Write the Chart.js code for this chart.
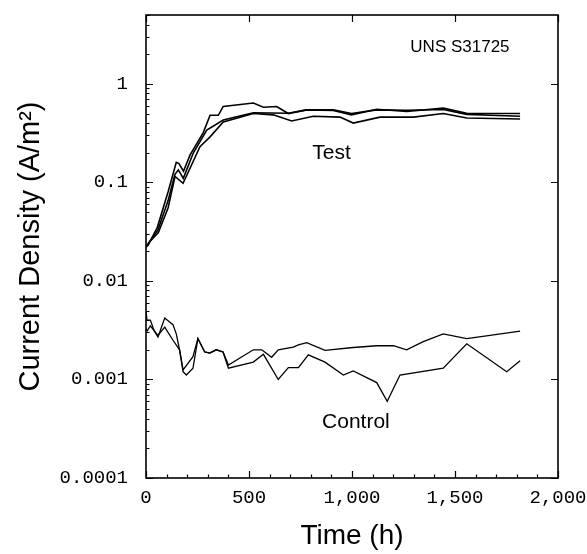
<!DOCTYPE html>
<html>
<head>
<meta charset="utf-8">
<script src="https://cdn.jsdelivr.net/npm/chart.js@4.4.0/dist/chart.umd.min.js"></script>
<style>
  html, body { margin: 0; padding: 0; background: #fff; }
  #wrap { width: 587px; height: 554px; }
</style>
</head>
<body>
<div id="wrap"><canvas id="chart"></canvas></div>
<script>
// test runs (h, A/m2)
const testAHours = [0, 10, 55, 107, 147, 160, 182, 214, 278, 311, 351, 375, 521, 570, 634, 691, 780, 909, 998, 1120, 1265, 1443, 1557, 1816];
const testACurrent = [0.022, 0.023, 0.035, 0.08, 0.16, 0.155, 0.13, 0.19, 0.32, 0.48, 0.48, 0.59, 0.64, 0.58, 0.59, 0.50, 0.545, 0.537, 0.485, 0.553, 0.524, 0.567, 0.504, 0.50];

const testBHours = [5, 58, 107, 140, 157, 181, 230, 295, 375, 521, 691, 780, 909, 998, 1120, 1265, 1443, 1557, 1816];
const testBCurrent = [0.023, 0.033, 0.065, 0.12, 0.134, 0.11, 0.2, 0.34, 0.43, 0.51, 0.504, 0.545, 0.545, 0.50, 0.545, 0.54, 0.55, 0.49, 0.47];

const testCHours = [10, 60, 107, 141, 180, 262, 311, 375, 521, 618, 707, 812, 942, 1006, 1136, 1298, 1443, 1557, 1816];
const testCCurrent = [0.024, 0.031, 0.055, 0.115, 0.098, 0.23, 0.29, 0.41, 0.50, 0.485, 0.42, 0.47, 0.46, 0.40, 0.46, 0.46, 0.50, 0.45, 0.44];

// control runs
const controlAHours = [0, 5, 21, 40, 58, 91, 131, 147, 163, 180, 228, 252, 285, 309, 341, 374, 400, 521, 562, 610, 642, 715, 740, 780, 869, 1006, 1120, 1201, 1265, 1346, 1443, 1557, 1670, 1816];
const controlACurrent = [0.0049, 0.0040, 0.0040, 0.0031, 0.0027, 0.0042, 0.0036, 0.0029, 0.0020, 0.00125, 0.0017, 0.0026, 0.0019, 0.00185, 0.0020, 0.0019, 0.0014, 0.0020, 0.0020, 0.00168, 0.0020, 0.00213, 0.00224, 0.00236, 0.00197, 0.00211, 0.0022, 0.0022, 0.0020, 0.00242, 0.0029, 0.0026, 0.0028, 0.0031];

const controlBHours = [0, 5, 21, 58, 91, 131, 163, 180, 196, 228, 252, 285, 309, 341, 374, 400, 521, 570, 642, 691, 740, 788, 869, 958, 1006, 1120, 1171, 1233, 1443, 1557, 1751, 1816];
const controlBCurrent = [0.0033, 0.0031, 0.0035, 0.0028, 0.0034, 0.0025, 0.0020, 0.0012, 0.00111, 0.0013, 0.0026, 0.0019, 0.00185, 0.0020, 0.0019, 0.0013, 0.0015, 0.0018, 0.0010, 0.00132, 0.00132, 0.00178, 0.0015, 0.00111, 0.00122, 0.00093, 0.0006, 0.00111, 0.0013, 0.0023, 0.0012, 0.00155];

const xTickValues = [0, 500, 1000, 1500, 2000];
const xTickLabels = ['0', '500', '1,000', '1,500', '2,000'];
const yTickValues = [0.0001, 0.001, 0.01, 0.1, 1];
const yTickLabels = ['0.0001', '0.001', '0.01', '0.1', '1'];

function pairs(hours, current) {
  return hours.map((h, i) => ({ x: h, y: current[i] }));
}

// labels written inside the plot, placed in data units
const notes = [
  { text: 'UNS S31725', x: 1524, y: 2.35, size: 17 },
  { text: 'Test', x: 901, y: 0.2, size: 21 },
  { text: 'Control', x: 1019, y: 0.00037, size: 21 }
];

// box, inward tick marks and the text notes
const frame = {
  id: 'frame',
  afterDatasetsDraw(chart) {
    const { ctx, chartArea: a, scales: { x, y } } = chart;
    ctx.save();
    ctx.strokeStyle = '#000';
    ctx.lineWidth = 1.6;
    ctx.strokeRect(a.left, a.top, a.right - a.left, a.bottom - a.top);

    ctx.lineWidth = 1.2;
    ctx.beginPath();
    for (let t = x.min; t <= x.max; t += 100) {
      const px = Math.round(x.getPixelForValue(t)) + 0.5;
      const major = t % 500 === 0;
      const len = major ? 7 : 3.5;
      ctx.moveTo(px, a.bottom);
      ctx.lineTo(px, a.bottom - len);
      if (major) {
        ctx.moveTo(px, a.top);
        ctx.lineTo(px, a.top + len);
      }
    }
    for (let e = -4; e <= 0; e++) {
      for (let m = 1; m <= 9; m++) {
        const v = m * Math.pow(10, e);
        if (v > y.max) break;
        const py = Math.round(y.getPixelForValue(v)) + 0.5;
        const len = m === 1 ? 7 : 3.5;
        ctx.moveTo(a.left, py);
        ctx.lineTo(a.left + len, py);
        if (m === 1) {
          ctx.moveTo(a.right, py);
          ctx.lineTo(a.right - len, py);
        }
      }
    }
    ctx.stroke();

    ctx.fillStyle = '#000';
    ctx.textAlign = 'center';
    ctx.textBaseline = 'middle';
    notes.forEach(n => {
      ctx.font = n.size + 'px "Liberation Sans", Arial, sans-serif';
      ctx.fillText(n.text, x.getPixelForValue(n.x), y.getPixelForValue(n.y));
    });
    ctx.restore();
  }
};

function line(hours, current, width) {
  return {
    data: pairs(hours, current),
    borderColor: '#000',
    borderWidth: width,
    pointRadius: 0,
    tension: 0,
    fill: false
  };
}

// drop the label overhang so layout.padding alone sets the plot edges
function noOverhang(s) {
  s.paddingLeft = 0;
  s.paddingRight = 0;
  s.paddingTop = 0;
  s.paddingBottom = 0;
}

new Chart(document.getElementById('chart'), {
  type: 'line',
  data: {
    datasets: [
      line(testAHours, testACurrent, 1.6),
      line(testBHours, testBCurrent, 1.6),
      line(testCHours, testCCurrent, 1.6),
      line(controlAHours, controlACurrent, 1.3),
      line(controlBHours, controlBCurrent, 1.3)
    ]
  },
  options: {
    responsive: true,
    maintainAspectRatio: false,
    devicePixelRatio: 1,
    animation: false,
    layout: { padding: { left: 0, top: 15, right: 29, bottom: 0 } },
    plugins: {
      legend: { display: false },
      tooltip: { enabled: false }
    },
    scales: {
      x: {
        type: 'linear',
        min: 0,
        max: 2000,
        afterBuildTicks: s => { s.ticks = xTickValues.map(v => ({ value: v })); },
        afterFit: s => { noOverhang(s); s.height = 76; },
        grid: { display: false, drawTicks: false },
        border: { display: false },
        ticks: {
          autoSkip: false,
          maxRotation: 0,
          padding: 9,
          color: '#000',
          font: { family: '"Liberation Mono", monospace', size: 19 },
          callback: (v, i) => xTickLabels[i]
        },
        title: {
          display: true,
          text: 'Time (h)',
          color: '#000',
          font: { family: '"Liberation Sans", Arial, sans-serif', size: 28 },
          padding: { top: 0, bottom: 1 }
        }
      },
      y: {
        type: 'logarithmic',
        min: 0.0001,
        max: 5,
        afterBuildTicks: s => { s.ticks = yTickValues.map(v => ({ value: v })); },
        afterFit: s => { noOverhang(s); s.width = 146; },
        grid: { display: false, drawTicks: false },
        border: { display: false },
        ticks: {
          autoSkip: false,
          padding: 18,
          color: '#000',
          font: { family: '"Liberation Mono", monospace', size: 19 },
          callback: (v, i) => yTickLabels[i]
        },
        title: {
          display: true,
          text: 'Current Density (A/m²)',
          color: '#000',
          font: { family: '"Liberation Sans", Arial, sans-serif', size: 29 },
          padding: { top: 14, bottom: 0 }
        }
      }
    }
  },
  plugins: [frame]
});
</script>
</body>
</html>
